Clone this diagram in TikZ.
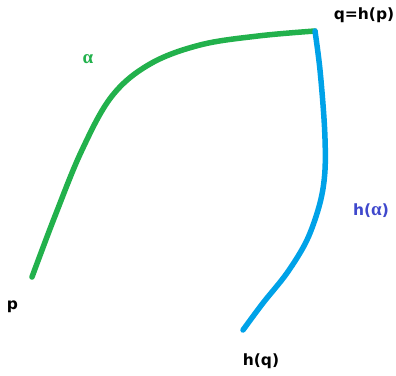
\documentclass[tikz,border=0pt]{standalone}
\usepackage{fontspec}
\setmainfont{DejaVu Sans}
\newfontfamily\alphafont{Liberation Serif}
\definecolor{pgreen}{RGB}{34,177,76}
\definecolor{pblue}{RGB}{0,162,232}
\definecolor{pindigo}{RGB}{63,72,204}
\begin{document}
\begin{tikzpicture}[x=1pt,y=-1pt,
  curve/.style={line width=5.5pt,line cap=round,line join=round},
  lbl/.style={font=\fontsize{15.5}{17}\selectfont\bfseries,inner sep=0pt}]
\useasboundingbox (0,0) rectangle (396,375);
% key points
\coordinate (P) at (32,277);
\coordinate (Q) at (315,31);
\coordinate (HQ) at (243,330);
% alpha
\draw[curve,pgreen] plot[smooth,tension=0.6] coordinates
  {(P) (55,216) (82,150) (112,96) (150,64) (200,45) (258,36) (Q)};
% h(alpha)
\draw[curve,pblue] plot[smooth,tension=0.55] coordinates
  {(Q) (320,70) (324.5,127) (325,170) (320,203) (307,240) (287,273) (263,303) (HQ)};
% labels
\node[lbl] (lq) at (364,15) {q=h(p)};
\node[lbl] (lp) at (12.5,307) {p};
\node[lbl] (lhq) at (261,361) {h(q)};
\node[lbl,text=pgreen] (la) at (88,59) {{\alphafont\fontsize{19}{21}\selectfont α}};
\node[lbl,text=pindigo] (lha) at (371,211) {h({\alphafont\fontsize{19}{21}\selectfont α})};
\end{tikzpicture}
\end{document}
